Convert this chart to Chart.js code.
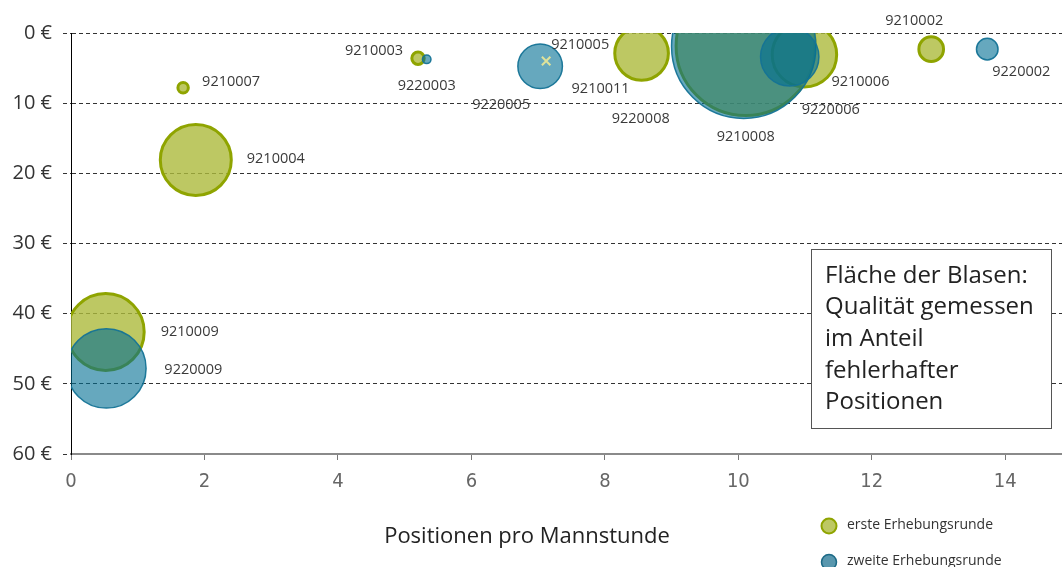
<!DOCTYPE html>
<html><head><meta charset="utf-8">
<script src="https://cdn.jsdelivr.net/npm/chart.js@4"></script>
<style>html,body{margin:0;padding:0;background:#fff}#wrap{width:1062px;height:567px}</style>
</head><body><div id="wrap"><canvas id="c" width="1062" height="567"></canvas></div>
<script>
// ---- data ----
const ids1 = ['9210007','9210004','9210009','9210003','9210011','9210008','9210006','9210002'];
const x1 = [1.68, 1.87, 0.52, 5.20, 8.55, 10.11, 10.99, 12.89];
const y1 = [7.8, 18.1, 42.6, 3.6, 2.9, 1.85, 3.1, 2.3];
const q1 = [0.068, 3.15, 3.7, 0.096, 1.80, 12.1, 2.6, 0.38];   // Anteil fehlerhafter Positionen (%)

const ids2 = ['9220009','9220003','9220005','9220008','9220006','9220002'];
const x2 = [0.53, 5.33, 7.03, 10.08, 10.77, 13.73];
const y2 = [47.8, 3.75, 4.75, 1.9, 3.4, 2.3];
const q2 = [3.94, 0.046, 1.24, 13.0, 2.13, 0.29];

const idsX = ['9210005'];
const xX = [7.12];
const yX = [4.0];

const xTicks = [0, 2, 4, 6, 8, 10, 12, 14];
const yTicks = [0, 10, 20, 30, 40, 50, 60];
const seriesNames = ['erste Erhebungsrunde', 'zweite Erhebungsrunde'];
const xTitle = 'Positionen pro Mannstunde';
const noteLines = ['Fläche der Blasen:', 'Qualität gemessen', 'im Anteil', 'fehlerhafter', 'Positionen'];

// ---- styling ----
const labelOffsets = {
  '9210007':[19,-6], '9210004':[51,-1], '9210009':[55,0], '9220009':[58,1],
  '9210003':[-73,-7], '9220003':[-29,27], '9220005':[-68,39], '9210005':[5,-16],
  '9210011':[-70,36], '9220008':[-132,73], '9210008':[-29,91], '9220006':[12,53],
  '9210006':[27,27], '9210002':[-46,-28], '9220002':[5,23]
};
const rScale = q => 20 * Math.sqrt(q);
const FONT = "'Open Sans','Noto Sans',sans-serif";
const COND = "'Liberation Sans Narrow','DejaVu Sans Condensed','Roboto',sans-serif";
const yellowFill = 'rgba(172,186,60,0.8)', yellowBorder = 'rgb(143,164,0)';
const blueFill = 'rgba(0,110,147,0.6)', blueBorder = 'rgba(20,115,150,0.95)';

const mk = (xs, ys, qs, ids) => xs.map((x, i) => ({x, y: ys[i], r: qs ? rScale(qs[i]) : 6, id: ids[i]}));

const overlay = {
  id: 'overlay',
  afterDatasetsDraw(chart) {
    const ctx = chart.ctx;
    ctx.save();
    ctx.font = '14.5px ' + FONT;
    ctx.fillStyle = '#3a3a3a';
    ctx.textAlign = 'left';
    ctx.textBaseline = 'middle';
    chart.data.datasets.forEach((ds, di) => {
      const meta = chart.getDatasetMeta(di);
      meta.data.forEach((el, i) => {
        const id = ds.data[i].id;
        const off = labelOffsets[id] || [10, 0];
        ctx.fillText(id, el.x + off[0], el.y + off[1]);
      });
    });
    ctx.restore();
  },
  afterDraw(chart) {
    const ctx = chart.ctx;
    ctx.save();
    // axis title
    ctx.font = '22px ' + FONT;
    ctx.fillStyle = '#222';
    ctx.textAlign = 'center';
    ctx.textBaseline = 'middle';
    ctx.fillText(xTitle, 527, 537);
    // note box
    ctx.fillStyle = '#fff';
    ctx.fillRect(811.5, 249.5, 240, 179);
    ctx.strokeStyle = '#555';
    ctx.lineWidth = 1;
    ctx.strokeRect(811.5, 249.5, 240, 179);
    ctx.fillStyle = '#222';
    ctx.font = '24px ' + FONT;
    ctx.textAlign = 'left';
    noteLines.forEach((t, i) => ctx.fillText(t, 825, 276 + i * 31.6));
    // legend
    const leg = [[yellowFill, yellowBorder, 2], ['rgba(0,95,130,0.65)', 'rgba(20,100,130,0.95)', 1.5]];
    ctx.font = '14px ' + FONT;
    seriesNames.forEach((name, i) => {
      const cy = 526 + i * 36;
      ctx.beginPath();
      ctx.arc(829, cy, 7.5, 0, Math.PI * 2);
      ctx.fillStyle = '#fff'; ctx.fill();
      ctx.fillStyle = leg[i][0]; ctx.fill();
      ctx.strokeStyle = leg[i][1]; ctx.lineWidth = leg[i][2]; ctx.stroke();
      ctx.fillStyle = '#333';
      ctx.fillText(name, 847, cy - 1);
    });
    ctx.restore();
  }
};

new Chart(document.getElementById('c'), {
  type: 'bubble',
  data: {
    datasets: [
      { label: seriesNames[0], data: mk(x1, y1, q1, ids1), backgroundColor: yellowFill,
        borderColor: yellowBorder, borderWidth: 3, order: 2, clip: 0 },
      { label: seriesNames[1], data: mk(x2, y2, q2, ids2), backgroundColor: blueFill,
        borderColor: blueBorder, borderWidth: 1.5, order: 1, clip: 0 },
      { label: '9210005', data: mk(xX, yX, null, idsX), pointStyle: 'crossRot',
        backgroundColor: 'rgba(0,0,0,0)', borderColor: '#dfe39a', borderWidth: 2, order: 0, clip: 0 }
    ]
  },
  options: {
    responsive: false, animation: false, devicePixelRatio: 1,
    layout: { autoPadding: false, padding: { top: 33, right: 0, left: 0, bottom: 0 } },
    plugins: { legend: { display: false }, tooltip: { enabled: false } },
    scales: {
      x: {
        type: 'linear', min: 0, max: 14.85,
        afterBuildTicks: s => { s.ticks = xTicks.map(v => ({value: v})); },
        afterFit: s => { s.height = 113; },
        ticks: { font: { family: COND, size: 20 }, color: '#666', padding: 10, maxRotation: 0 },
        grid: { drawOnChartArea: false, drawTicks: true, tickLength: 6, tickColor: '#777', color: '#777' },
        border: { color: '#8a8a8a', width: 2 }
      },
      y: {
        type: 'linear', min: 0, max: 60, reverse: true,
        afterBuildTicks: s => { s.ticks = yTicks.map(v => ({value: v})); },
        afterFit: s => { s.width = 71; },
        ticks: { font: { family: FONT, size: 20 }, color: '#333', padding: 11, callback: v => v + ' €' },
        grid: { color: '#333', lineWidth: 1, tickLength: 8, tickColor: '#333', tickBorderDash: [4, 3] },
        border: { color: '#000', width: 1, dash: [4, 3] }
      }
    }
  },
  plugins: [overlay]
});
</script>
</body></html>
